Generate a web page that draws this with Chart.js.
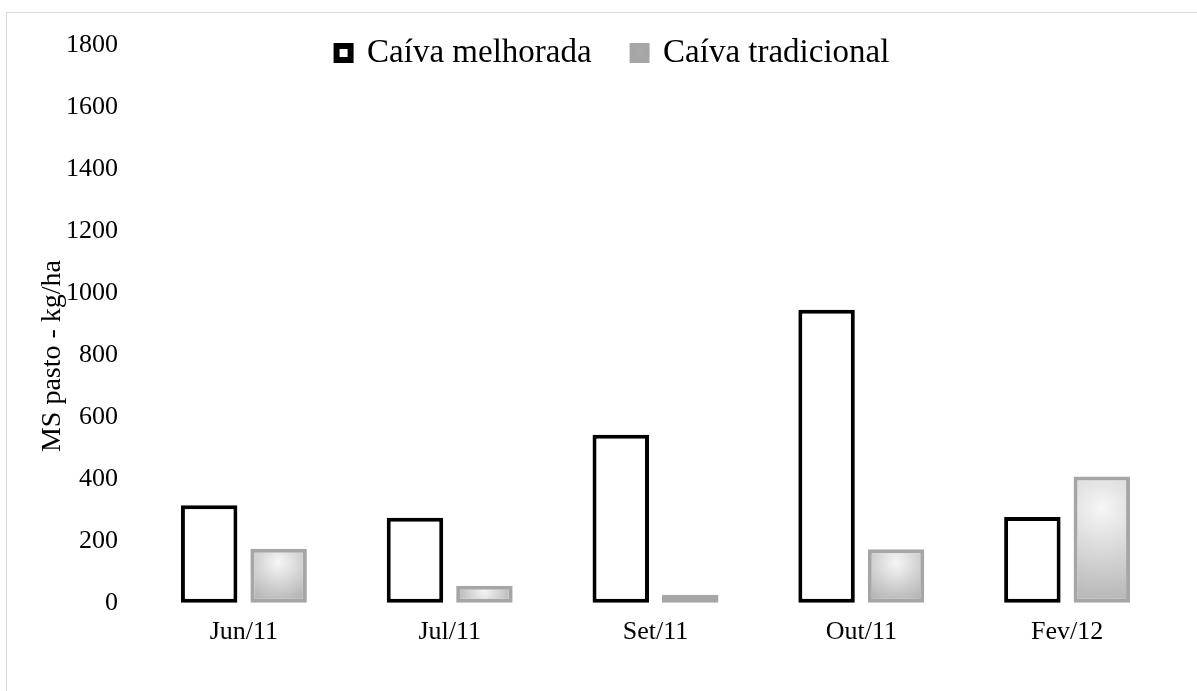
<!DOCTYPE html>
<html>
<head>
<meta charset="utf-8">
<script src="https://cdn.jsdelivr.net/npm/chart.js@4.4.1/dist/chart.umd.min.js"></script>
<style>
  html, body { margin: 0; padding: 0; background: #ffffff; overflow: hidden; }
  #frame { position: absolute; left: 6px; top: 12px; width: 1260px; height: 760px;
           border: 1px solid #d9d9d9; box-sizing: border-box; }
  #c { position: absolute; left: 0; top: 0; }
</style>
</head>
<body>
<div id="frame"></div>
<canvas id="c" width="1197" height="691"></canvas>
<script>
// ---- data ----
const categories = ['Jun/11', 'Jul/11', 'Set/11', 'Out/11', 'Fev/12'];
const seriesNames = ['Caíva melhorada', 'Caíva tradicional'];
const melhorada = [316, 275, 543, 946, 278];
const tradicional = [175, 56, 27, 174, 408];
const yTickValues = [0, 200, 400, 600, 800, 1000, 1200, 1400, 1600, 1800];
const yTitle = 'MS pasto - kg/ha';

// ---- layout constants ----
const FONT = "'Liberation Serif', 'Times New Roman', serif";
const CAT_PCT = 0.675;
const BAR_PCT = 0.813;
const Y_MIN = -206;          // extends plot area below zero so the axis title is centred like the reference
const LEGEND_PAD = 41;

function tradFill(ctx) {
  const fallback = '#dcdcdc';
  if (ctx.type !== 'data') return fallback;
  const chart = ctx.chart;
  const xs = chart.scales.x, ys = chart.scales.y;
  if (!xs || !ys || !chart.chartArea) return fallback;
  const top = ys.getPixelForValue(ctx.raw);
  const base = ys.getPixelForValue(0);
  const catW = xs.width / categories.length;
  const slot = catW * CAT_PCT / 2;
  const cx = xs.getPixelForValue(ctx.dataIndex) + slot / 2;
  const w = slot * BAR_PCT;
  const h = Math.max(base - top, 1);
  const cy = top + h * 0.25;
  const r = Math.max(w * 0.6, h * 0.9);
  const g = chart.ctx.createRadialGradient(cx, cy, 0, cx, cy, r);
  g.addColorStop(0, '#f6f6f6');
  g.addColorStop(1, '#a9a9a9');
  return g;
}

// legend floats over the plot (does not reserve layout space)
const legendOverlay = {
  id: 'legendOverlay',
  beforeLayout(chart) {
    const lg = chart.legend;
    if (lg && !lg.$overlay) {
      const fit = lg.fit;
      lg.fit = function () { fit.call(this); this.$h = this.height; this.height = 0; };
      lg.$overlay = true;
    }
  },
  afterLayout(chart) {
    const lg = chart.legend;
    if (!lg || lg.$h === undefined) return;
    lg.top = -4.5;
    lg.height = lg.$h;
    lg.bottom = lg.top + lg.$h;
    lg.left += 12;
    lg.right += 12;
  }
};

function build() {
  new Chart(document.getElementById('c'), {
    type: 'bar',
    data: {
      labels: categories,
      datasets: [
        {
          label: seriesNames[0],
          data: melhorada,
          backgroundColor: '#ffffff',
          borderColor: '#000000',
          borderWidth: 4,
          borderSkipped: false,
          categoryPercentage: CAT_PCT,
          barPercentage: BAR_PCT
        },
        {
          label: seriesNames[1],
          data: tradicional,
          backgroundColor: tradFill,
          borderColor: '#a6a6a6',
          borderWidth: 4,
          borderSkipped: false,
          categoryPercentage: CAT_PCT,
          barPercentage: BAR_PCT
        }
      ]
    },
    options: {
      responsive: false,
      devicePixelRatio: 1,
      animation: false,
      layout: { padding: { left: 32, right: 27, top: 45, bottom: 24 } },
      plugins: {
        tooltip: { enabled: false },
        title: { display: false },
        legend: {
          display: true,
          position: 'top',
          align: 'center',
          labels: {
            color: '#000000',
            font: { family: FONT, size: 33 },
            boxWidth: 14,
            boxHeight: 14,
            padding: LEGEND_PAD,
            generateLabels(chart) {
              const items = Chart.defaults.plugins.legend.labels.generateLabels(chart);
              items.forEach(it => { it.lineWidth = 6; });
              return items;
            }
          }
        }
      },
      scales: {
        x: {
          type: 'category',
          axis: 'x',
          position: { y: 0 },
          grid: { display: false, drawTicks: false },
          border: { display: false },
          ticks: {
            color: '#000000',
            font: { family: FONT, size: 26 },
            padding: 13,
            maxRotation: 0,
            autoSkip: false
          }
        },
        y: {
          type: 'linear',
          position: 'left',
          min: Y_MIN,
          max: 1800,
          grid: {
            display: true,
            drawOnChartArea: false,
            drawTicks: true,
            tickLength: 23,
            color: 'rgba(0,0,0,0)'
          },
          border: { display: false },
          ticks: {
            color: '#000000',
            font: { family: FONT, size: 26 },
            padding: 0,
            autoSkip: false,
            callback: (v) => String(v)
          },
          afterBuildTicks(scale) {
            scale.ticks = yTickValues.map(v => ({ value: v }));
          },
          afterFit(scale) { scale.width = 109; },
          title: {
            display: true,
            text: yTitle,
            color: '#000000',
            font: { family: FONT, size: 28 },
            padding: { top: 4, bottom: 0 }
          }
        }
      }
    },
    plugins: [legendOverlay]
  });
}

if (document.fonts && document.fonts.load) {
  Promise.all([
    document.fonts.load("33px 'Liberation Serif'"),
    document.fonts.load("26px 'Liberation Serif'")
  ]).then(build, build);
} else {
  build();
}
</script>
</body>
</html>
